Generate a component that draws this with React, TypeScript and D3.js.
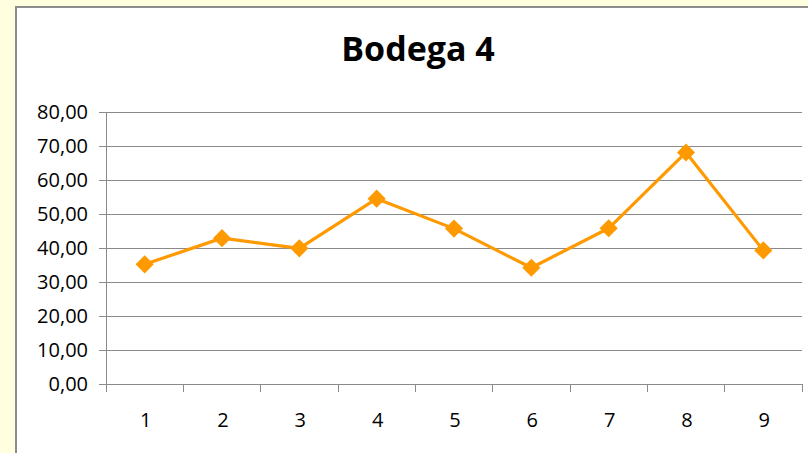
import React from "react";
import * as d3 from "d3";

const categories = ["1", "2", "3", "4", "5", "6", "7", "8", "9"];
const values = [35.2, 42.9, 39.9, 54.5, 45.7, 34.2, 45.8, 68.1, 39.3];
const yTicks = [0, 10, 20, 30, 40, 50, 60, 70, 80];
const title = "Bodega 4";

const W = 808;
const H = 453;
const left = 106;
const right = 802;
const top = 112;
const bottom = 384;

export default function App() {
  const x = d3.scaleBand<string>().domain(categories).range([left, right]).padding(0);
  const y = d3.scaleLinear().domain([0, 80]).range([bottom, top]);
  const fmt = (v: number) => v.toFixed(2).replace(".", ",");
  const line = d3
    .line<number>()
    .x((_, i) => (x(categories[i]) as number) + x.bandwidth() / 2)
    .y((d) => y(d));
  const diamond = d3.symbol().type(d3.symbolSquare).size(165)();
  const grid = "#8a8a8a";
  const font = "'Open Sans', 'Noto Sans', sans-serif";
  const boundaries = categories.map((c) => x(c) as number).concat([right]);
  return (
    <svg
      width={W}
      height={H}
      style={{ position: "absolute", left: 0, top: 0, display: "block" }}
    >
      <rect x={0} y={0} width={W} height={H} fill="#FFFFE0" />
      <rect x={16} y={7} width={W + 20} height={H + 20} fill="#ffffff" stroke="#8c8c8c" strokeWidth={2} />
      <text
        x={418}
        y={61}
        textAnchor="middle"
        fontFamily={font}
        fontWeight="bold"
        fontSize={34}
        fill="#000"
      >
        {title}
      </text>
      {yTicks.map((t) => (
        <g key={t}>
          {t > 0 && (
            <line x1={left} x2={right} y1={y(t)} y2={y(t)} stroke={grid} strokeWidth={1} shapeRendering="crispEdges" />
          )}
          <line x1={left - 7} x2={left} y1={y(t)} y2={y(t)} stroke={grid} strokeWidth={1} shapeRendering="crispEdges" />
          <text
            x={88}
            y={y(t)}
            dy="0.36em"
            textAnchor="end"
            fontFamily={font}
            fontSize={20}
            fill="#000"
          >
            {fmt(t)}
          </text>
        </g>
      ))}
      <line x1={left} x2={left} y1={top} y2={bottom} stroke={grid} strokeWidth={1} shapeRendering="crispEdges" />
      <line x1={left} x2={right} y1={bottom} y2={bottom} stroke={grid} strokeWidth={1} shapeRendering="crispEdges" />
      {boundaries.map((b, i) => (
        <line key={i} x1={b} x2={b} y1={bottom} y2={bottom + 8} stroke={grid} strokeWidth={1} shapeRendering="crispEdges" />
      ))}
      {categories.map((c) => (
        <text
          key={c}
          x={(x(c) as number) + x.bandwidth() / 2 + 1}
          y={427}
          textAnchor="middle"
          fontFamily={font}
          fontSize={20}
          fill="#000"
        >
          {c}
        </text>
      ))}
      <path d={line(values) || ""} fill="none" stroke="#FF9900" strokeWidth={3.2} strokeLinejoin="round" />
      {values.map((v, i) => (
        <path
          key={i}
          d={diamond || ""}
          transform={`translate(${(x(categories[i]) as number) + x.bandwidth() / 2},${y(v)}) rotate(45)`}
          fill="#FF9900"
        />
      ))}
    </svg>
  );
}
